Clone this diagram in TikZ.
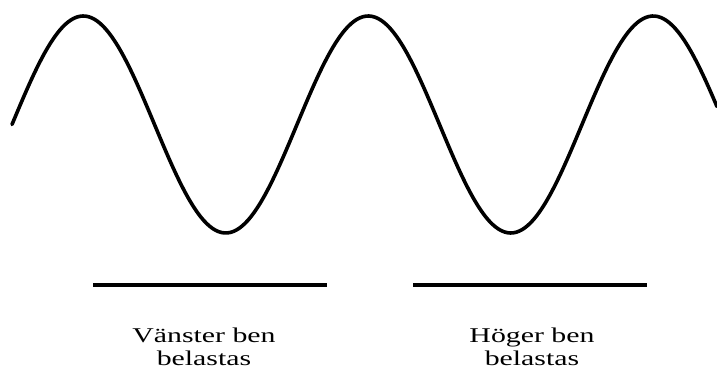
\documentclass[tikz,border=0pt]{standalone}
\usepackage{fontspec}
\usepackage{tikz}
\newfontfamily\labelfont[FakeStretch=1.42]{Liberation Serif}

\begin{document}
\begin{tikzpicture}[x=1pt,y=1pt,
  wave/.style={line width=3.6pt,line cap=round,line join=round},
  bar/.style={line width=3.6pt},
  caption/.style={anchor=north,inner sep=0pt,align=center,font=\labelfont\fontsize{21}{23}\selectfont}]
  \useasboundingbox (0,0) rectangle (717,372);
  \draw[wave] plot[domain=12:717,samples=240,smooth] (\x,{247.5+108.5*sin((\x-12)/285*360)});
  \coordinate (l1) at (93,87);  \coordinate (r1) at (327,87);
  \coordinate (l2) at (413,87); \coordinate (r2) at (647,87);
  \draw[bar] (l1) -- (r1);
  \draw[bar] (l2) -- (r2);
  \node[caption] (vanster) at (204,44) {Vänster ben\\belastas};
  \node[caption] (hoger) at (532,44) {Höger ben\\belastas};
\end{tikzpicture}
\end{document}
